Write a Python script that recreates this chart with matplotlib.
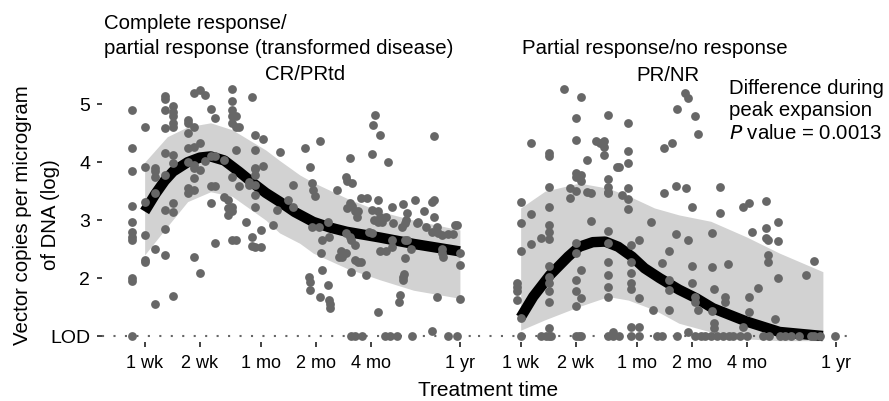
import matplotlib
matplotlib.use("Agg")
import matplotlib.pyplot as plt
from matplotlib.ticker import NullLocator

plt.rcParams['font.family'] = ['Liberation Sans', 'DejaVu Sans']

# -----------------------------
# data (days since infusion, log10 vector copies)
# -----------------------------
LOD = 1.0

cr_days = ([6] * 11 + [7] * 6 + [8] * 6 + [9] * 9 + [10] * 10 + [12] * 7 + [13] * 8 + [14] * 4 + [15] * 2
           + [16] * 4 + [17] * 4 + [19] * 2 + [20] * 3 + [21] * 9 + [22] * 4 + [23] * 2 + [25] + [26] * 2
           + [27] * 3 + [28] * 9 + [30] * 2 + [31] * 2 + [35, 37, 38, 42] + [45] * 2 + [52, 55] + [56] * 3
           + [57] * 2 + [58, 59, 62] + [63] * 2 + [64] + [65] * 2 + [70] * 2 + [71] * 2 + [72] * 2
           + [78, 80, 82, 83] + [87] * 3 + [89] * 2 + [92] * 3 + [93] * 3 + [94] * 2 + [98] * 4 + [101]
           + [102] * 2 + [106] * 2 + [107, 113, 114, 116] + [121] * 3 + [123, 124, 126] + [130] * 4
           + [134] * 3 + [137, 143] + [145] * 2 + [148, 152] + [155] * 3 + [158, 166, 171, 173, 176]
           + [178] * 3 + [181] + [183] * 2 + [184, 185] + [187] * 2 + [198, 200, 208, 213, 217, 232, 240]
           + [257] * 3 + [263] * 2 + [264] + [274] * 2 + [279] + [291] * 3 + [297] + [316] * 2 + [336, 344]
           + [351] * 2 + [365] * 3)
cr_vals = [4.90, 4.24, 3.85, 3.25, 2.97, 2.80, 2.71, 2.66, 2.00, 1.95, 1.00,
           4.60, 3.92, 3.32, 2.74, 2.31, 2.28,
           3.90, 3.84, 3.75, 3.46, 2.51, 1.56,
           5.15, 5.09, 4.90, 4.59, 4.16, 3.78, 3.18, 2.84, 2.39,
           4.97, 4.87, 4.80, 4.67, 4.61, 4.13, 3.98, 3.29, 3.14, 1.69,
           4.73, 4.67, 4.50, 4.24, 4.01, 3.55, 3.46,
           5.19, 4.61, 4.27, 3.95, 3.90, 3.72, 3.52, 2.37,
           5.25, 4.33, 3.87, 2.08,
           5.16, 4.02,
           4.92, 4.11, 3.59, 3.29,
           4.76, 4.10, 3.59, 2.61,
           4.04, 3.40,
           3.35, 3.21, 3.09,
           5.26, 5.05, 4.90, 4.79, 4.67, 3.75, 3.23, 3.15, 2.66,
           4.79, 4.61, 4.21, 2.66,
           4.61, 3.59,
           2.97,
           3.65, 3.61,
           5.13, 2.71, 2.55,
           4.47, 4.21, 3.90, 3.88, 3.78, 3.61, 3.44, 3.23, 2.54,
           2.54, 2.83,
           4.40, 3.94,
           2.92, 3.18, 4.18, 3.35,
           3.61, 3.23,
           4.24, 2.02,
           3.91, 1.94, 1.79,
           3.64, 2.89,
           3.52, 3.41, 2.89,
           4.37, 1.67,
           2.44,
           2.66, 2.14,
           1.88, 2.97,
           1.63, 2.71,
           1.56, 1.48,
           3.52, 2.36, 2.46, 2.37,
           3.75, 2.77, 2.43,
           3.67, 3.21,
           4.08, 3.29, 2.71,
           2.66, 2.11, 1.00,
           3.64, 3.25,
           3.15, 2.57, 2.31, 1.00,
           3.06,
           3.15, 2.28,
           3.38, 2.28,
           1.00, 2.05, 3.38, 2.80,
           4.14, 3.18, 2.77,
           4.64, 3.00, 4.82,
           3.35, 3.15, 2.97, 1.42,
           4.47, 3.06, 2.46,
           2.97, 1.00,
           3.06, 2.46,
           4.01, 1.00,
           3.23, 2.54, 2.66,
           2.95, 1.00, 1.58, 1.71, 2.89,
           3.28, 2.02, 1.97,
           2.07,
           2.95, 2.66,
           2.34, 3.00,
           3.12, 2.66,
           2.50, 1.00, 3.35, 2.95, 2.97, 3.15, 2.89,
           3.32, 2.80, 1.09,
           3.35, 3.05,
           4.45,
           2.89, 1.67,
           2.77,
           2.74, 2.51, 2.43,
           2.37,
           2.76, 1.00,
           2.76, 2.91,
           2.91, 1.00,
           2.43, 2.23, 1.64]

pr_days = ([6.7] * 4 + [7] * 5 + [8] * 3 + [9] * 2 + [9.6] + [10] * 14 + [10.3, 12] + [13] * 2 + [14] * 11
           + [14.6] + [15] * 6 + [16] * 2 + [17] * 2 + [18, 19] + [20] * 3 + [21] * 12 + [22.4] * 2 + [23.4]
           + [24] * 2 + [25] + [27] * 6 + [28] * 7 + [31] * 4 + [36, 37, 38.5] + [41] * 2 + [42] * 2
           + [45] * 4 + [47] + [49] * 2 + [50] * 2 + [55, 56] + [57] * 3 + [60] * 3 + [62] * 4 + [65] * 2
           + [67, 71, 76] + [77] * 3 + [79] * 3 + [82] + [85] * 2 + [89] + [91] * 2 + [94, 96, 101, 110]
           + [114] * 2 + [119] + [123] * 3 + [128, 137, 146] + [151] * 3 + [156] * 3 + [158, 171]
           + [177] * 3 + [181, 192, 209, 230, 252, 266] + [277] * 2 + [300, 359])
pr_vals = [1.91, 1.85, 1.77, 1.62,
           3.32, 2.95, 2.47, 1.31, 1.00,
           4.33, 3.10, 2.59,
           2.69, 1.00,
           1.00,
           4.16, 4.10, 3.58, 3.22, 2.92, 2.80, 2.67, 2.21, 2.02, 1.91, 1.78, 1.59, 1.13, 1.00,
           1.00, 5.26,
           3.55, 3.38,
           4.76, 4.39, 3.81, 3.75, 3.50, 2.60, 2.43, 1.97, 1.77, 1.52, 1.00,
           1.00,
           5.13, 3.78, 3.68, 2.14, 1.65, 1.00,
           4.04, 3.49,
           3.47, 2.99,
           4.36, 4.33,
           4.36, 4.27, 4.13,
           4.82, 3.71, 3.58, 3.49, 3.47, 2.82, 2.60, 2.28, 2.05, 1.84, 1.68, 1.00,
           1.07, 1.00,
           3.91,
           3.91, 1.00,
           3.44,
           4.68, 4.20, 3.98, 3.55, 3.36, 3.19,
           2.57, 2.28, 2.08, 1.91, 1.82, 1.15, 1.00,
           2.66, 1.65, 1.15, 1.00,
           2.96, 1.45, 1.00,
           2.26, 1.00,
           3.47, 4.24,
           2.46, 1.97, 1.79, 1.45,
           4.34,
           3.59, 2.76,
           4.92, 1.00,
           5.19, 3.55,
           5.10, 2.66, 1.07,
           3.23, 2.20, 1.91,
           4.80, 1.68, 1.59, 1.00,
           4.49, 1.45,
           1.00, 1.00, 1.00,
           2.78, 2.19, 1.44,
           1.82, 1.23, 1.13,
           1.00,
           3.58, 3.13,
           1.00,
           1.68, 1.58,
           2.24, 1.00, 1.00, 1.00,
           3.22, 1.15,
           1.00,
           3.29, 1.67, 1.41,
           2.80, 1.83, 1.00,
           3.33, 2.87, 2.69,
           2.66, 2.40, 2.28,
           1.00, 1.29,
           2.96, 2.64, 2.00,
           1.00, 1.00, 1.00, 1.00, 2.05, 1.00,
           2.30, 1.00,
           1.00, 1.00]

# smoothed fit and its confidence band
cr_fit_days = [7, 8, 9, 10, 12, 14, 16, 19, 23, 27, 32, 38, 46, 58, 72, 88, 134, 204, 365]
cr_fit = [3.15, 3.45, 3.68, 3.84, 4.00, 4.08, 4.10, 4.03, 3.83, 3.65, 3.47, 3.32, 3.14, 2.97, 2.87, 2.80,
          2.70, 2.59, 2.46]
cr_band_days = [7, 9.3, 12, 16, 21, 32, 38, 49, 58, 88, 134, 204, 365]
cr_band_hi = [4.00, 4.44, 4.61, 4.68, 4.56, 4.21, 4.03, 3.78, 3.65, 3.38, 3.15, 3.00, 2.83]
cr_band_lo = [2.40, 2.89, 3.32, 3.49, 3.41, 3.00, 2.78, 2.60, 2.43, 2.17, 1.97, 1.79, 1.65]

pr_fit_days = [7, 8.2, 10.1, 12.7, 14.6, 17.3, 20.2, 23.8, 28.3, 33.1, 40, 51, 63.5, 78, 119, 180, 310]
pr_fit = [1.32, 1.68, 2.05, 2.37, 2.54, 2.62, 2.63, 2.54, 2.37, 2.17, 2.00, 1.80, 1.65, 1.48, 1.25, 1.07, 1.00]
pr_band_days = [7, 9.5, 14.6, 21, 27, 37.5, 51, 76, 119, 180, 310]
pr_band_hi = [3.21, 3.50, 3.64, 3.55, 3.42, 3.21, 3.09, 2.98, 2.71, 2.43, 2.11]
pr_band_lo = [1.10, 1.28, 1.51, 1.68, 1.62, 1.45, 1.22, 1.07, 0.95, 0.92, 0.92]

tick_days = [7, 14, 30, 60, 120, 365]
tick_labels = ['1 wk', '2 wk', '1 mo', '2 mo', '4 mo', '1 yr']
y_ticks = [1, 2, 3, 4, 5]
y_labels = ['LOD', '2', '3', '4', '5']

# -----------------------------
# figure
# -----------------------------
W, H = 889, 401
fig = plt.figure(figsize=(W / 100, H / 100), dpi=100)


def fx(px):
    return px / W


def fy(py):
    return 1 - py / H


bottom, top = 341.8, 78.2
ax1 = fig.add_axes([fx(102), fy(bottom), 376 / W, (bottom - top) / H])
ax2 = fig.add_axes([fx(478), fy(bottom), 376 / W, (bottom - top) / H], sharey=ax1)

panels = [(ax1, cr_days, cr_vals, cr_fit_days, cr_fit, cr_band_days, cr_band_hi, cr_band_lo),
          (ax2, pr_days, pr_vals, pr_fit_days, pr_fit, pr_band_days, pr_band_hi, pr_band_lo)]

for ax, d, v, fd, fv, bd, bh, bl in panels:
    ax.fill_between(bd, bl, bh, color='#d2d2d2', lw=0, zorder=1)
    ax.axhline(LOD, color='#666666', lw=1.5, linestyle=(0, (1, 4.5)), zorder=2)
    ax.plot(fd, fv, color='black', lw=7.5, solid_capstyle='butt', solid_joinstyle='round', zorder=3)
    ax.scatter(d, v, s=40, color='#676767', lw=0, zorder=4)
    ax.set_xscale('log')
    ax.set_xlim(4.1, 458)
    ax.set_xticks(tick_days)
    ax.set_xticklabels(tick_labels, fontsize=13)
    ax.xaxis.set_minor_locator(NullLocator())
    for s in ax.spines.values():
        s.set_visible(False)
    ax.tick_params(axis='x', length=3.5, width=1.3, color='#333333', pad=6)
    ax.patch.set_alpha(0)

ax1.set_ylim(0.9, 5.45)
ax1.set_yticks(y_ticks)
ax1.set_yticklabels(y_labels, fontsize=14)
ax1.tick_params(axis='y', length=3.5, width=1.3, color='#333333', pad=5)
ax2.tick_params(axis='y', left=False, labelleft=False)

# titles and labels
fs = 14.7
fig.text(fx(104), fy(29), 'Complete response/', fontsize=fs, va='baseline', ha='left')
fig.text(fx(104), fy(53.5), 'partial response (transformed disease)', fontsize=fs, va='baseline', ha='left')
fig.text(fx(305), fy(80), 'CR/PRtd', fontsize=fs, va='baseline', ha='center')
fig.text(fx(522), fy(54.5), 'Partial response/no response', fontsize=fs, va='baseline', ha='left')
fig.text(fx(668), fy(81), 'PR/NR', fontsize=fs, va='baseline', ha='center')
fig.text(fx(729), fy(93.5), 'Difference during', fontsize=fs, va='baseline', ha='left')
fig.text(fx(729), fy(116.5), 'peak expansion', fontsize=fs, va='baseline', ha='left')
fig.text(fx(729), fy(139), r'$\it{P}$ value = 0.0013', fontsize=fs, va='baseline', ha='left')

fig.text(fx(23), fy(215), 'Vector copies per microgram', fontsize=fs, rotation=90, va='center', ha='center')
fig.text(fx(51), fy(215), 'of DNA (log)', fontsize=fs, rotation=90, va='center', ha='center')
fig.text(fx(488), fy(396), 'Treatment time', fontsize=15, va='baseline', ha='center')

fig.savefig('out.png', dpi=100)
